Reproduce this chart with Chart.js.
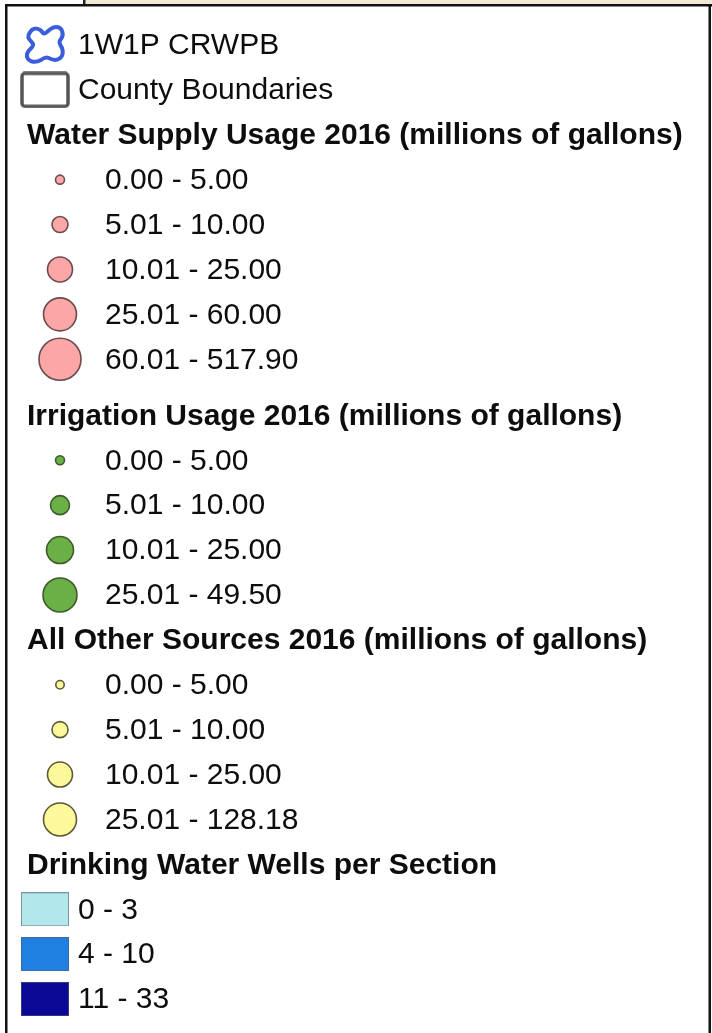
<!DOCTYPE html>
<html>
<head>
<meta charset="utf-8">
<style>
  html, body { margin: 0; background: #fff; }
  canvas { display: block; }
</style>
</head>
<body>
<canvas id="legend" width="712" height="1033"></canvas>
<script src="https://cdn.jsdelivr.net/npm/chart.js@4"></script>
<script>
const BOUNDARY_LABELS = ["1W1P CRWPB", "County Boundaries"];

const WATER_TITLE = "Water Supply Usage 2016 (millions of gallons)";
const WATER_CLASSES = ["0.00 - 5.00", "5.01 - 10.00", "10.01 - 25.00", "25.01 - 60.00", "60.01 - 517.90"];

const IRRIGATION_TITLE = "Irrigation Usage 2016 (millions of gallons)";
const IRRIGATION_CLASSES = ["0.00 - 5.00", "5.01 - 10.00", "10.01 - 25.00", "25.01 - 49.50"];

const OTHER_TITLE = "All Other Sources 2016 (millions of gallons)";
const OTHER_CLASSES = ["0.00 - 5.00", "5.01 - 10.00", "10.01 - 25.00", "25.01 - 128.18"];

const WELLS_TITLE = "Drinking Water Wells per Section";
const WELLS_CLASSES = ["0 - 3", "4 - 10", "11 - 33"];

// styles
const TEXT_COLOR = "#0d0d0d";
const FONT_REG = "30px 'Liberation Sans', Arial, sans-serif";
const FONT_BOLD = "bold 30px 'Liberation Sans', Arial, sans-serif";
const TEXT_X = { title: 27, symbol: 78, circle: 105, swatch: 78 };

const CIRCLE_STYLE = {
  water: { fill: "#fba7a8", stroke: "#6d4c4e", radii: [4.5, 8, 12.5, 16.5, 21] },
  irrigation: { fill: "#6bb046", stroke: "#3e5a2e", radii: [4.5, 9.5, 13.5, 17] },
  other: { fill: "#fdf99b", stroke: "#5c5a3a", radii: [4.2, 8, 12.5, 16.5] },
};
const SWATCH_COLORS = ["#b1e8ec", "#1f80e2", "#0b0895"];

function makeCanvas(w, h, draw) {
  const c = document.createElement("canvas");
  c.width = w; c.height = h;
  draw(c.getContext("2d"));
  return c;
}

const blobIcon = makeCanvas(44, 42, (g) => {
  g.strokeStyle = "#3a5edb";
  g.lineWidth = 4;
  g.lineJoin = "round";
  g.beginPath();
  g.moveTo(6, 10);
  g.bezierCurveTo(10, 2, 17, 4, 20, 9);
  g.bezierCurveTo(23, 12, 26, 3, 33, 3);
  g.bezierCurveTo(40, 3, 41, 11, 38, 15);
  g.bezierCurveTo(35, 18, 37, 20, 39, 24);
  g.bezierCurveTo(42, 33, 35, 38, 28, 35);
  g.bezierCurveTo(24, 33, 22, 33, 18, 36);
  g.bezierCurveTo(11, 40, 3, 37, 4, 30);
  g.bezierCurveTo(5, 25, 11, 24, 10, 20);
  g.bezierCurveTo(9, 17, 3, 15, 6, 10);
  g.closePath();
  g.stroke();
});

const countyBox = makeCanvas(50, 37, (g) => {
  g.fillStyle = "#fff";
  g.strokeStyle = "#555";
  g.lineWidth = 3.5;
  g.beginPath();
  g.roundRect(2, 2, 46, 33, 3);
  g.fill();
  g.stroke();
});

const swatch = (color) => makeCanvas(48, 34, (g) => {
  g.fillStyle = color;
  g.fillRect(0, 0, 48, 34);
  g.strokeStyle = "rgba(90,90,110,0.6)";
  g.lineWidth = 1;
  g.strokeRect(0.5, 0.5, 47, 33);
});

// build rows in legend order
const rows = [];
let pos = 0;
const addRow = (text, kind) => { rows.push({ text, kind, pos }); return pos++; };

const boundaryPts = BOUNDARY_LABELS.map((t) => ({ x: 0, y: addRow(t, "symbol") }));

const circleGroup = (title, classes, key, gapBefore = 0) => {
  pos += gapBefore;
  addRow(title, "title");
  return { key, data: classes.map((t) => ({ x: 1, y: addRow(t, "circle") })) };
};
const groups = [
  circleGroup(WATER_TITLE, WATER_CLASSES, "water"),
  circleGroup(IRRIGATION_TITLE, IRRIGATION_CLASSES, "irrigation", 0.25),
  circleGroup(OTHER_TITLE, OTHER_CLASSES, "other"),
];
addRow(WELLS_TITLE, "title");
const wellPts = WELLS_CLASSES.map((t) => ({ x: 0, y: addRow(t, "swatch") }));

const datasets = [
  { data: boundaryPts, pointStyle: [blobIcon, countyBox], pointRadius: 20 },
  ...groups.map((g) => {
    const s = CIRCLE_STYLE[g.key];
    return {
      data: g.data, pointStyle: "circle", pointRadius: s.radii,
      pointBackgroundColor: s.fill, pointBorderColor: s.stroke, pointBorderWidth: 1.6,
    };
  }),
  { data: wellPts, pointStyle: SWATCH_COLORS.map(swatch), pointRadius: 20 },
].map((d) => ({ ...d, clip: false, showLine: false }));

const framePlugin = {
  id: "frame",
  beforeDraw(c) {
    const { ctx } = c;
    ctx.save();
    ctx.fillStyle = "#fff";
    ctx.fillRect(0, 0, c.width, c.height);
    // sliver of the map above the legend
    ctx.fillStyle = "#f1ead6";
    ctx.fillRect(85, 0, c.width - 85, 5);
    ctx.fillStyle = "#222";
    ctx.fillRect(83, 0, 2.5, 5);
    ctx.restore();
  },
  afterDraw(c) {
    const { ctx } = c;
    ctx.save();
    ctx.fillStyle = "#111";
    ctx.fillRect(5, 4, c.width - 4, 2.5);
    ctx.fillRect(5, 4, 2.5, c.height - 4);
    ctx.fillRect(708.5, 4, 2.5, c.height - 4);
    ctx.restore();
  },
};

const textPlugin = {
  id: "legendText",
  afterDatasetsDraw(c) {
    const { ctx } = c;
    const y = c.scales.y;
    ctx.save();
    ctx.fillStyle = TEXT_COLOR;
    ctx.textBaseline = "middle";
    rows.forEach((r) => {
      ctx.font = r.kind === "title" ? FONT_BOLD : FONT_REG;
      ctx.fillText(r.text, TEXT_X[r.kind], y.getPixelForValue(r.pos) + 1);
    });
    ctx.restore();
  },
};

new Chart(document.getElementById("legend"), {
  type: "scatter",
  data: { datasets },
  options: {
    responsive: false,
    animation: false,
    events: [],
    layout: { autoPadding: false, padding: { left: 45, right: 652, top: 22.5, bottom: 11.5 } },
    plugins: { legend: { display: false }, tooltip: { enabled: false } },
    scales: {
      x: { type: "linear", min: 0, max: 1, display: false },
      y: { type: "linear", min: -0.5, max: pos - 0.5, reverse: true, display: false },
    },
  },
  plugins: [framePlugin, textPlugin],
});
</script>
</body>
</html>
